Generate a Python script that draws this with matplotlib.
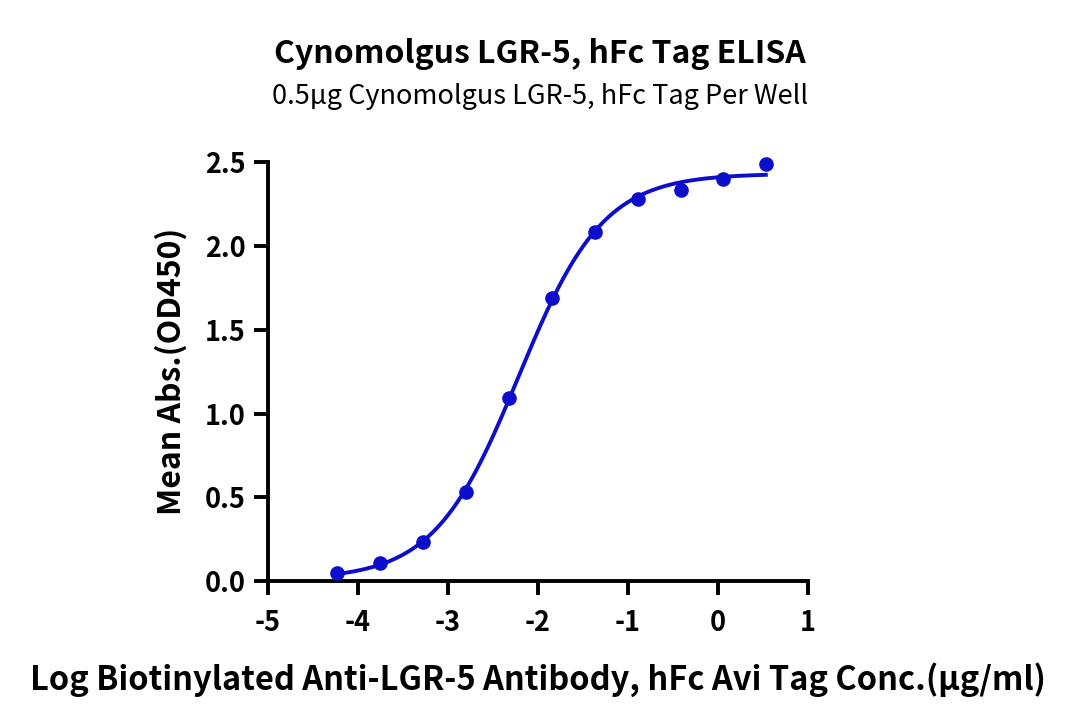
import numpy as np
import matplotlib
matplotlib.use("Agg")
import matplotlib.pyplot as plt

plt.rcParams['font.family'] = ['Noto Sans CJK SC', 'DejaVu Sans']

# Data (log10 concentration, mean OD450)
log_conc = [-4.233, -3.756, -3.278, -2.800, -2.322, -1.844, -1.367, -0.889, -0.411, 0.056, 0.533]
od450 = [0.048, 0.107, 0.233, 0.531, 1.092, 1.689, 2.082, 2.279, 2.333, 2.399, 2.488]

title = "Cynomolgus LGR-5, hFc Tag ELISA"
subtitle = "0.5μg Cynomolgus LGR-5, hFc Tag Per Well"
xlabel = "Log Biotinylated Anti-LGR-5 Antibody, hFc Avi Tag Conc.(μg/ml)"
ylabel = "Mean Abs.(OD450)"
xticks = [-5, -4, -3, -2, -1, 0, 1]
yticks = [0.0, 0.5, 1.0, 1.5, 2.0, 2.5]

color = "#0D0DCC"

x = np.array(log_conc)
y = np.array(od450)


def f4(p, xx):
    bottom, top, logec50, hill = p
    return bottom + (top - bottom) / (1 + 10 ** ((logec50 - xx) * hill))


def fit4pl(xx, yy, p0, iters=200):
    p = np.array(p0, dtype=float)
    lam = 1e-3
    for _ in range(iters):
        r = yy - f4(p, xx)
        J = np.zeros((len(xx), 4))
        for k in range(4):
            dp = np.zeros(4)
            dp[k] = 1e-6
            J[:, k] = (f4(p + dp, xx) - f4(p - dp, xx)) / 2e-6
        A = J.T @ J
        g = J.T @ r
        step = np.linalg.solve(A + lam * np.diag(np.diag(A)), g)
        pn = p + step
        if np.sum((yy - f4(pn, xx)) ** 2) < np.sum(r ** 2):
            p = pn
            lam *= 0.5
        else:
            lam *= 4
    return p


params = fit4pl(x, y, [0.0, 2.4, -2.2, 1.0])
xs = np.linspace(x.min(), x.max(), 400)

fig = plt.figure(figsize=(10.8, 7.23), dpi=100)
ax = fig.add_axes([0.248, 0.196, 0.500, 0.580])

ax.plot(xs, f4(params, xs), color=color, lw=2.8, zorder=2)
ax.plot(x, y, 'o', color=color, ms=9.5, zorder=3, clip_on=False)

ax.set_xlim(-5, 1)
ax.set_ylim(0, 2.5)
ax.set_xticks(xticks)
ax.set_xticklabels([str(t) for t in xticks])
ax.set_yticks(yticks)
ax.set_yticklabels([f"{t:.1f}" for t in yticks])

for s in ['top', 'right']:
    ax.spines[s].set_visible(False)
for s in ['left', 'bottom']:
    ax.spines[s].set_linewidth(2.8)
    ax.spines[s].set_color('black')
    ax.spines[s].set_capstyle('projecting')

ax.tick_params(axis='both', direction='out', length=10, width=2.8, labelsize=19.5, pad=6)
for lab in ax.get_xticklabels() + ax.get_yticklabels():
    lab.set_fontweight('black')
ax.tick_params(axis='x', pad=10)

ax.set_xlabel(xlabel, fontsize=23.5, fontweight='black', labelpad=18)
ax.set_ylabel(ylabel, fontsize=23, fontweight='black', labelpad=12)

fig.text(0.5, 0.925, title, ha='center', va='center', fontsize=23, fontweight='black')
fig.text(0.5, 0.866, subtitle, ha='center', va='center', fontsize=19.5)

fig.savefig("out.png", dpi=100)
